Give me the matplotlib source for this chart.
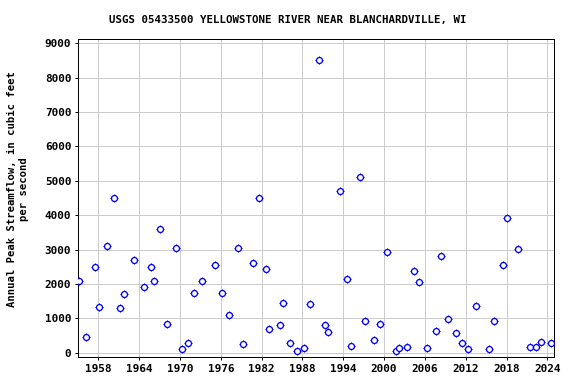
#!/usr/bin/env python3

import matplotlib
matplotlib.use('Agg')
import matplotlib.pyplot as plt

# peak flow dates (decimal year) and values in cfs
years = [1955.21, 1956.19, 1957.51, 1958.15, 1959.33, 1960.36, 1961.19, 1961.83,
	1963.30, 1964.77, 1965.75, 1966.24, 1967.07, 1968.15, 1969.42, 1970.26,
	1971.23, 1972.12, 1973.29, 1975.20, 1976.23, 1977.26, 1978.52, 1979.20,
	1980.78, 1981.67, 1982.69, 1983.14, 1984.75, 1985.15, 1986.23, 1987.26,
	1988.19, 1989.12, 1990.49, 1991.37, 1991.81, 1993.58, 1994.56, 1995.19,
	1996.52, 1997.25, 1998.57, 1999.46, 2000.49, 2001.72, 2002.25, 2003.43,
	2004.41, 2005.19, 2006.37, 2007.64, 2008.37, 2009.40, 2010.63, 2011.46,
	2012.39, 2013.52, 2015.43, 2016.17, 2017.54, 2018.13, 2019.70, 2021.46,
	2022.34, 2023.07, 2024.54]
peaks = [2080, 450, 2480, 1320, 3090, 4490, 1300, 1700,
	2690, 1910, 2480, 2080, 3590, 835, 3040, 100,
	270, 1730, 2080, 2540, 1730, 1090, 3040, 250,
	2600, 4490, 2430, 680, 806, 1440, 273, 60,
	127, 1410, 8500, 796, 592, 4690, 2140, 195,
	5110, 913, 360, 835, 2930, 60, 127, 166,
	2380, 2050, 127, 621, 2800, 980, 573, 282,
	98, 1350, 98, 913, 2540, 3910, 3010, 166,
	166, 302, 282]

xticks = [1958, 1964, 1970, 1976, 1982, 1988, 1994, 2000, 2006, 2012, 2018, 2024]
yticks = list(range(0, 9001, 1000))

plt.rcParams['font.family'] = 'DejaVu Sans Mono'
plt.rcParams['font.weight'] = 'bold'

fig = plt.figure(figsize=(8, 384/72), dpi=72)
ax = fig.add_axes([0.136, 0.0695, 0.8265, 0.8282])

ax.plot(years, peaks, linestyle='none', marker='+', ms=8.5, mew=1, color='blue', zorder=3)
ax.plot(years, peaks, linestyle='none', marker='o', ms=6, mew=1.3,
	markerfacecolor='white', markeredgecolor='blue', zorder=4)

ax.set_xlim(1955.06, 2025.03)
ax.set_ylim(-134, 9116)
ax.set_xticks(xticks)
ax.set_yticks(yticks)
ax.grid(True, color='#cccccc', linewidth=1)
ax.set_axisbelow(True)
ax.tick_params(direction='out', length=3, labelsize=11, width=1, pad=4)
for lab in ax.get_xticklabels() + ax.get_yticklabels():
	lab.set_fontweight('bold')
for s in ax.spines.values():
	s.set_linewidth(1)

fig.text(0.031, 0.508, 'Annual Peak Streamflow, in cubic feet\nper second', rotation=90,
	ha='center', va='center', multialignment='center', fontsize=10.5,
	fontweight='bold', linespacing=1.25)
fig.text(0.5, 0.947, 'USGS 05433500 YELLOWSTONE RIVER NEAR BLANCHARDVILLE, WI',
	ha='center', va='center', fontsize=10.8, fontweight='bold')

plt.savefig('out.png', dpi=72)
plt.close()
